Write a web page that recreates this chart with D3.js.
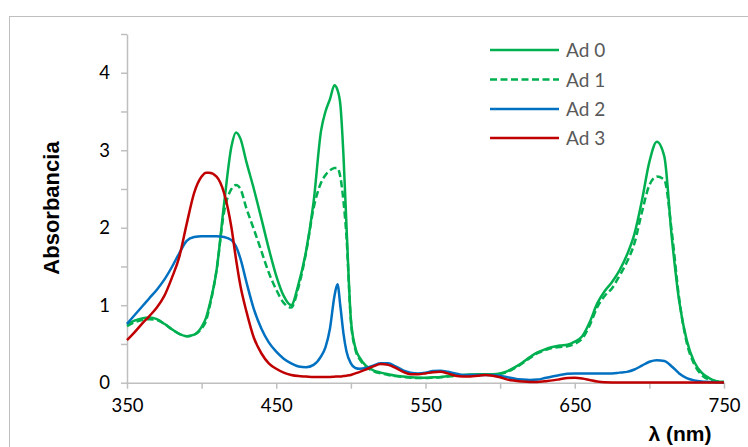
<!DOCTYPE html>
<html>
<head>
<meta charset="utf-8">
<script src="https://cdn.jsdelivr.net/npm/d3@7"></script>
<style>
  html, body { margin: 0; padding: 0; background: #fff; }
  svg { display: block; }
</style>
</head>
<body>
<svg id="chart" width="748" height="447"></svg>
<script>
// ---- data ----
const wavelengths = [350,355,360,365,370,375,380,385,390,395,400,403,405,410,415,420,423,426,430,435,440,445,450,455,460,465,470,475,480,483,486,489,491,493,495,497,500,503,506,510,515,520,525,530,535,540,545,550,555,560,565,570,575,580,585,590,595,600,605,610,615,620,625,630,635,640,645,650,655,660,665,670,675,680,685,690,695,700,705,710,715,720,725,730,735,740,745,750];

const ad0 = [0.75,0.80,0.83,0.84,0.82,0.76,0.69,0.63,0.60,0.62,0.72,0.84,0.98,1.45,2.30,3.05,3.23,3.15,2.85,2.50,2.12,1.73,1.38,1.12,1.00,1.28,1.70,2.33,3.25,3.50,3.66,3.84,3.78,3.58,2.95,2.05,0.82,0.45,0.32,0.22,0.16,0.13,0.11,0.09,0.08,0.07,0.065,0.065,0.07,0.075,0.085,0.095,0.10,0.105,0.11,0.11,0.11,0.12,0.15,0.20,0.26,0.33,0.39,0.43,0.46,0.48,0.49,0.53,0.60,0.78,1.02,1.18,1.30,1.45,1.65,1.92,2.35,2.85,3.11,2.92,1.88,1.05,0.55,0.27,0.13,0.06,0.02,0.01];

const ad1 = [0.73,0.78,0.81,0.82,0.81,0.76,0.69,0.63,0.60,0.62,0.70,0.80,0.95,1.45,2.20,2.50,2.55,2.50,2.25,1.98,1.70,1.42,1.20,1.03,0.97,1.24,1.68,2.25,2.58,2.68,2.74,2.77,2.77,2.65,2.35,1.90,0.80,0.43,0.30,0.21,0.15,0.12,0.10,0.085,0.075,0.065,0.06,0.06,0.065,0.07,0.08,0.09,0.095,0.10,0.105,0.105,0.105,0.115,0.14,0.19,0.25,0.32,0.38,0.42,0.45,0.46,0.47,0.50,0.57,0.74,0.97,1.12,1.22,1.38,1.56,1.80,2.20,2.55,2.66,2.62,1.95,1.08,0.52,0.24,0.10,0.04,0.02,0.01];

const ad2 = [0.76,0.87,0.98,1.09,1.20,1.33,1.49,1.67,1.83,1.88,1.89,1.89,1.89,1.89,1.88,1.84,1.76,1.60,1.30,0.95,0.70,0.52,0.40,0.31,0.25,0.21,0.20,0.23,0.34,0.46,0.70,1.12,1.27,0.98,0.64,0.41,0.25,0.19,0.18,0.19,0.22,0.25,0.25,0.21,0.16,0.13,0.12,0.13,0.15,0.155,0.14,0.12,0.10,0.10,0.10,0.10,0.10,0.09,0.07,0.05,0.04,0.035,0.04,0.06,0.08,0.10,0.115,0.12,0.12,0.12,0.12,0.12,0.12,0.13,0.14,0.17,0.22,0.27,0.29,0.28,0.21,0.12,0.06,0.03,0.015,0.01,0.005,0.0];

const ad3 = [0.55,0.65,0.76,0.86,0.97,1.12,1.35,1.62,2.05,2.45,2.66,2.71,2.71,2.66,2.45,2.00,1.60,1.25,0.92,0.58,0.38,0.25,0.18,0.13,0.10,0.085,0.08,0.075,0.075,0.075,0.075,0.078,0.08,0.08,0.085,0.09,0.10,0.12,0.14,0.17,0.21,0.24,0.23,0.19,0.14,0.11,0.11,0.12,0.135,0.14,0.12,0.09,0.08,0.08,0.09,0.10,0.09,0.07,0.04,0.025,0.015,0.01,0.01,0.02,0.03,0.045,0.06,0.065,0.055,0.035,0.015,0.005,0.003,0.003,0.003,0.003,0.003,0.003,0.003,0.003,0.003,0.003,0.003,0.003,0.003,0.003,0.003,0.003];

const seriesNames = ["Ad 0","Ad 1","Ad 2","Ad 3"];
const seriesColors = ["#00b050","#00b050","#0070c0","#c00000"];
const seriesDash = [null,"7,3.5",null,null];
const xTicks = [350,400,450,500,550,600,650,700,750];
const xTickLabels = ["350","","450","","550","","650","","750"];
const yTicks = [0,0.5,1,1.5,2,2.5,3,3.5,4,4.5];
const yTickLabels = ["0","","1","","2","","3","","4",""];
const xTitle = "λ (nm)";
const yTitle = "Absorbancia";

// ---- chart ----
const svg = d3.select("#chart");
const plotLeft = 127, plotRight = 724, plotTop = 34, plotBottom = 382.7;

const x = d3.scaleLinear().domain([350,750]).range([plotLeft,plotRight]);
const y = d3.scaleLinear().domain([0,4.5]).range([plotBottom,plotTop]);

// outer border
svg.append("rect").attr("x",9.5).attr("y",16.5).attr("width",800).attr("height",500)
  .attr("fill","none").attr("stroke","#bfbfbf").attr("stroke-width",1);

const tickFont = "Lato, 'Open Sans', sans-serif";

// y axis
const yAxis = d3.axisLeft(y).tickValues(yTicks).tickSize(6).tickSizeOuter(0)
  .tickFormat((d,i)=>yTickLabels[i]);
const gy = svg.append("g").attr("transform",`translate(${plotLeft},0)`).call(yAxis);
gy.select(".domain").attr("stroke","#bfbfbf").attr("stroke-width",1.5);
gy.selectAll(".tick line").attr("stroke","#bfbfbf").attr("stroke-width",1.5);
gy.selectAll(".tick text").attr("x",-17).attr("fill","#000")
  .style("font-family",tickFont).style("font-size","18.5px");

// x axis
const xAxis = d3.axisBottom(x).tickValues(xTicks).tickSize(6).tickSizeOuter(0)
  .tickFormat((d,i)=>xTickLabels[i]);
const gx = svg.append("g").attr("transform",`translate(0,${plotBottom})`).call(xAxis);
gx.select(".domain").attr("stroke","#bfbfbf").attr("stroke-width",1.5);
gx.selectAll(".tick line").attr("stroke","#bfbfbf").attr("stroke-width",1.5);
gx.selectAll(".tick text").attr("y",16).attr("fill","#000")
  .style("font-family",tickFont).style("font-size","18.5px");

// series
const allSeries = [ad0, ad1, ad2, ad3];
const line = d3.line()
  .x(d=>x(d[0])).y(d=>y(d[1]))
  .curve(d3.curveMonotoneX);

allSeries.forEach((vals,i)=>{
  const pts = wavelengths.map((w,j)=>[w, vals[j]]);
  svg.append("path").datum(pts)
    .attr("d",line)
    .attr("fill","none")
    .attr("stroke",seriesColors[i])
    .attr("stroke-width",2.5)
    .attr("stroke-linejoin","round")
    .attr("stroke-dasharray",seriesDash[i]);
});

// legend
const legY = [50,79.5,109,138];
seriesNames.forEach((name,i)=>{
  svg.append("line").attr("x1",490).attr("x2",559).attr("y1",legY[i]).attr("y2",legY[i])
    .attr("stroke",seriesColors[i]).attr("stroke-width",2.5)
    .attr("stroke-dasharray",seriesDash[i]);
  svg.append("text").attr("x",566).attr("y",legY[i]+7)
    .attr("fill","#595959")
    .style("font-family",tickFont).style("font-size","19px")
    .text(name);
});

// axis titles
svg.append("text")
  .attr("transform",`translate(59,208) rotate(-90)`)
  .attr("text-anchor","middle")
  .style("font-family","'Liberation Sans', Arial, sans-serif")
  .style("font-weight","bold").style("font-size","22px")
  .attr("fill","#000")
  .text(yTitle);

svg.append("text")
  .attr("x",680).attr("y",441)
  .attr("text-anchor","middle")
  .style("font-family","'Liberation Sans', Arial, sans-serif")
  .style("font-weight","bold").style("font-size","21px")
  .attr("fill","#000")
  .text(xTitle);
</script>
</body>
</html>
